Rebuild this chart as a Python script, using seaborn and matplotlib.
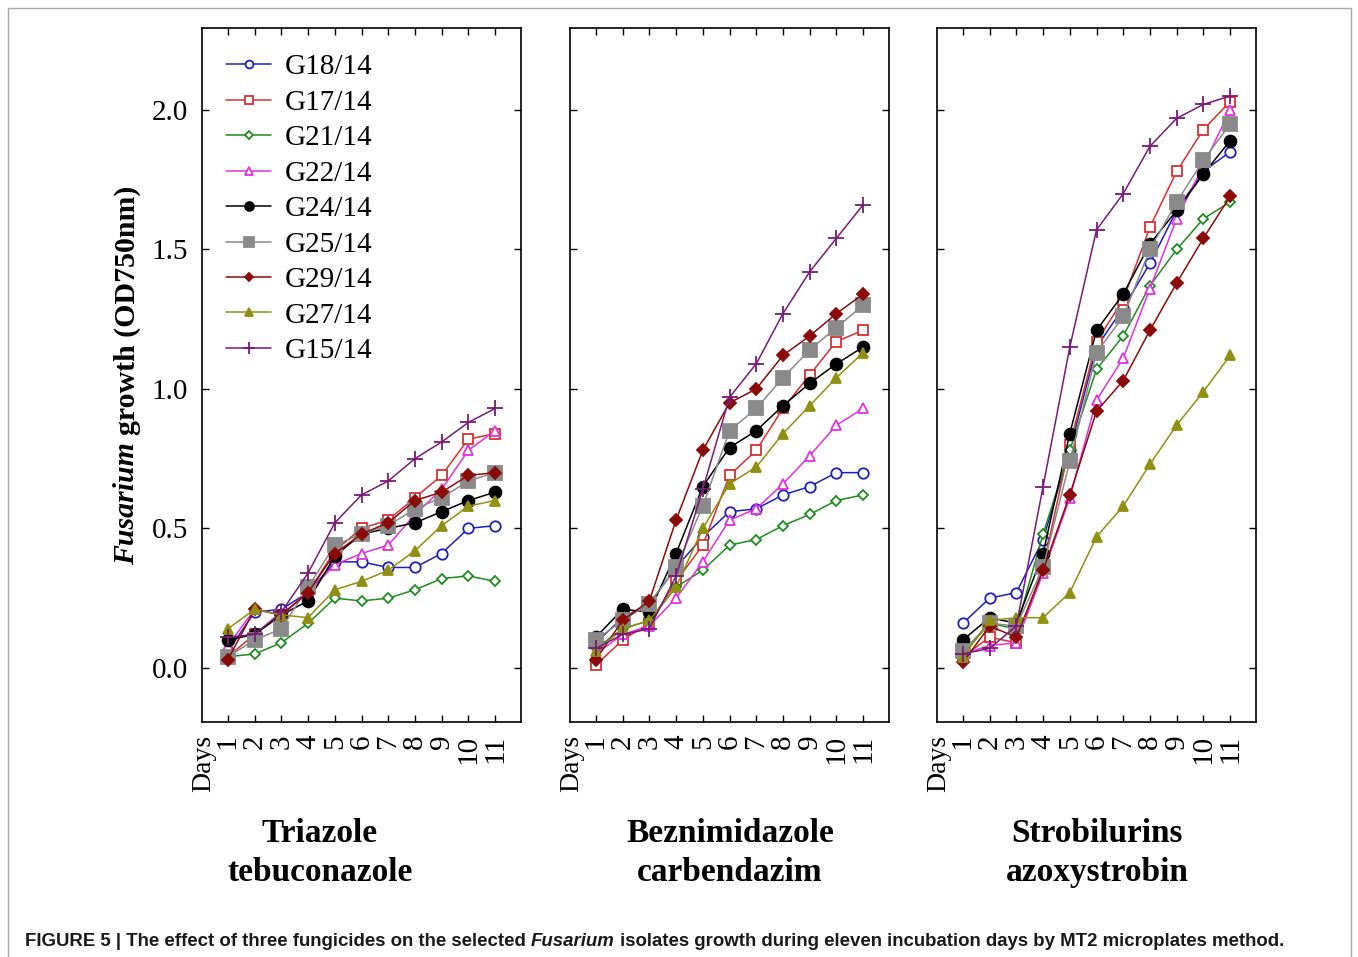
import matplotlib
matplotlib.use("Agg")
import matplotlib.pyplot as plt
import matplotlib.transforms as mtransforms
from matplotlib.patches import Rectangle
import pandas as pd
import seaborn as sns

days = list(range(1, 12))
isolates = ["G18/14", "G17/14", "G21/14", "G22/14", "G24/14",
            "G25/14", "G29/14", "G27/14", "G15/14"]

# OD750nm readings per isolate, days 1-11
tebuconazole = {
    "G18/14": [0.06, 0.20, 0.21, 0.27, 0.38, 0.38, 0.36, 0.36, 0.41, 0.50, 0.51],
    "G17/14": [0.04, 0.12, 0.19, 0.27, 0.42, 0.50, 0.53, 0.61, 0.69, 0.82, 0.84],
    "G21/14": [0.04, 0.05, 0.09, 0.16, 0.25, 0.24, 0.25, 0.28, 0.32, 0.33, 0.31],
    "G22/14": [0.08, 0.21, 0.19, 0.27, 0.37, 0.41, 0.44, 0.55, 0.64, 0.78, 0.85],
    "G24/14": [0.10, 0.12, 0.19, 0.24, 0.40, 0.48, 0.50, 0.52, 0.56, 0.60, 0.63],
    "G25/14": [0.04, 0.10, 0.14, 0.29, 0.44, 0.48, 0.51, 0.57, 0.61, 0.67, 0.70],
    "G29/14": [0.03, 0.21, 0.19, 0.27, 0.41, 0.48, 0.52, 0.60, 0.63, 0.69, 0.70],
    "G27/14": [0.14, 0.21, 0.19, 0.18, 0.28, 0.31, 0.35, 0.42, 0.51, 0.58, 0.60],
    "G15/14": [0.11, 0.12, 0.20, 0.34, 0.52, 0.62, 0.67, 0.75, 0.81, 0.88, 0.93],
}
carbendazim = {
    "G18/14": [0.09, 0.18, 0.23, 0.36, 0.47, 0.56, 0.57, 0.62, 0.65, 0.70, 0.70],
    "G17/14": [0.01, 0.10, 0.16, 0.31, 0.44, 0.69, 0.78, 0.93, 1.05, 1.17, 1.21],
    "G21/14": [0.07, 0.14, 0.17, 0.29, 0.35, 0.44, 0.46, 0.51, 0.55, 0.60, 0.62],
    "G22/14": [0.05, 0.12, 0.15, 0.25, 0.38, 0.53, 0.57, 0.66, 0.76, 0.87, 0.93],
    "G24/14": [0.11, 0.21, 0.20, 0.41, 0.65, 0.79, 0.85, 0.94, 1.02, 1.09, 1.15],
    "G25/14": [0.10, 0.17, 0.23, 0.36, 0.58, 0.85, 0.93, 1.04, 1.14, 1.22, 1.30],
    "G29/14": [0.03, 0.17, 0.24, 0.53, 0.78, 0.95, 1.00, 1.12, 1.19, 1.27, 1.34],
    "G27/14": [0.06, 0.14, 0.17, 0.29, 0.50, 0.66, 0.72, 0.84, 0.94, 1.04, 1.13],
    "G15/14": [0.07, 0.12, 0.14, 0.33, 0.64, 0.97, 1.09, 1.27, 1.42, 1.54, 1.66],
}
azoxystrobin = {
    "G18/14": [0.16, 0.25, 0.27, 0.46, 0.78, 1.15, 1.29, 1.45, 1.64, 1.78, 1.85],
    "G17/14": [0.04, 0.11, 0.09, 0.36, 0.80, 1.17, 1.32, 1.58, 1.78, 1.93, 2.03],
    "G21/14": [0.05, 0.16, 0.14, 0.48, 0.78, 1.07, 1.19, 1.37, 1.50, 1.61, 1.67],
    "G22/14": [0.05, 0.08, 0.09, 0.34, 0.61, 0.96, 1.11, 1.36, 1.61, 1.80, 2.00],
    "G24/14": [0.10, 0.18, 0.16, 0.41, 0.84, 1.21, 1.34, 1.52, 1.64, 1.77, 1.89],
    "G25/14": [0.06, 0.16, 0.15, 0.36, 0.74, 1.13, 1.26, 1.50, 1.67, 1.82, 1.95],
    "G29/14": [0.02, 0.15, 0.11, 0.35, 0.62, 0.92, 1.03, 1.21, 1.38, 1.54, 1.69],
    "G27/14": [0.04, 0.17, 0.18, 0.18, 0.27, 0.47, 0.58, 0.73, 0.87, 0.99, 1.12],
    "G15/14": [0.05, 0.07, 0.15, 0.65, 1.15, 1.57, 1.70, 1.87, 1.97, 2.02, 2.05],
}

panel_titles = ["Triazole\ntebuconazole", "Beznimidazole\ncarbendazim",
                "Strobilurins\nazoxystrobin"]
y_ticks = [0.0, 0.5, 1.0, 1.5, 2.0]

colors = {"G18/14": "#2020b8", "G17/14": "#d83030", "G21/14": "#1e8c1e",
          "G22/14": "#e030e0", "G24/14": "#000000", "G25/14": "#8a8a8a",
          "G29/14": "#8b0a0a", "G27/14": "#8f8f10", "G15/14": "#7a1a78"}
markers = {"G18/14": "o", "G17/14": "s", "G21/14": "D", "G22/14": "^",
           "G24/14": "o", "G25/14": "s", "G29/14": "D", "G27/14": "^",
           "G15/14": "+"}
filled = {"G18/14": False, "G17/14": False, "G21/14": False, "G22/14": False,
          "G24/14": True, "G25/14": True, "G29/14": True, "G27/14": True,
          "G15/14": True}
msizes = {"G18/14": 7.5, "G17/14": 7.5, "G21/14": 5.5, "G22/14": 7.5,
          "G24/14": 8.5, "G25/14": 10, "G29/14": 6, "G27/14": 7.5,
          "G15/14": 11}

sns.set_theme(style="white")
plt.rcParams["font.family"] = ["Liberation Serif", "DejaVu Serif"]
plt.rcParams["text.color"] = "black"

W, H = 1358, 957
fig = plt.figure(figsize=(W / 100, H / 100), dpi=100)
fig.patch.set_facecolor("white")
fig.patches.append(Rectangle((8 / W, -0.01), (1351 - 8) / W, 1 - 8 / H + 0.01,
                             transform=fig.transFigure, fill=False,
                             edgecolor="#a8a8a8", linewidth=1.0))

lefts = [202, 570, 937]
axes = [fig.add_axes([l / W, 1 - 722 / H, 319 / W, 694 / H]) for l in lefts]
title_x = [320, 730, 1097]

for i, (ax, data) in enumerate(zip(axes, [tebuconazole, carbendazim, azoxystrobin])):
    df = pd.DataFrame(data, index=days).rename_axis("day").reset_index()
    df = df.melt(id_vars="day", var_name="isolate", value_name="od")
    for iso in isolates:
        c = colors[iso]
        sns.lineplot(data=df[df["isolate"] == iso], x="day", y="od", ax=ax,
                     color=c, marker=markers[iso], markersize=msizes[iso],
                     markerfacecolor=c if filled[iso] else "white",
                     markeredgecolor=c, markeredgewidth=1.3,
                     linewidth=1.1, errorbar=None, label=iso, legend=False)

    ax.set_xlim(0.03, 11.97)
    ax.set_ylim(-0.194, 2.294)
    ax.set_xticks(days)
    ax.set_xticklabels([str(d) for d in days], rotation=90)
    ax.set_yticks(y_ticks)
    ax.set_yticklabels([f"{v:.1f}" for v in y_ticks] if i == 0 else [])
    ax.set_xlabel("")
    ax.set_ylabel("")
    ax.tick_params(direction="in", length=5, width=1, top=True, right=True,
                   bottom=True, left=True, labelsize=21, colors="black")
    ax.tick_params(axis="x", pad=9)
    ax.tick_params(axis="y", pad=10)
    for s in ax.spines.values():
        s.set_color("black")
        s.set_linewidth(1.2)
    trans = mtransforms.blended_transform_factory(ax.transData, ax.transAxes)
    ax.text(0.1, -0.018, "Days", rotation=90, ha="center", va="top",
            fontsize=20, transform=trans)
    fig.text(title_x[i] / W, 1 - 853 / H, panel_titles[i], ha="center",
             va="center", fontsize=24, fontweight="bold", linespacing=1.3)

leg = axes[0].legend(loc="upper left", bbox_to_anchor=(226 / W, 1 - 54 / H),
                     bbox_transform=fig.transFigure, frameon=False,
                     fontsize=21, borderpad=0, borderaxespad=0,
                     labelspacing=0.31, handlelength=1.55, handletextpad=0.45,
                     markerscale=0.75)

renderer = fig.canvas.get_renderer()


def advance(s, **props):
    t1 = fig.text(0, 0, s + "|", **props)
    t2 = fig.text(0, 0, "|", **props)
    w1 = t1.get_window_extent(renderer)
    w2 = t2.get_window_extent(renderer)
    t1.remove()
    t2.remove()
    if props.get("rotation", 0) == 90:
        return w1.height - w2.height
    return w1.width - w2.width


def chain(x, y, parts, rotation=0, **props):
    pos = 0
    for s, style in parts:
        kw = dict(props, style=style, rotation=rotation)
        if rotation == 90:
            fig.text(x / W, (H - y + pos) / H, s, ha="left", va="center",
                     rotation_mode="anchor", **kw)
        else:
            fig.text((x + pos) / W, 1 - y / H, s, ha="left", va="center",
                     rotation_mode="anchor", **kw)
        pos += advance(s, **kw)


chain(127, 565, [("Fusarium ", "italic"), ("growth (OD750nm)", "normal")],
      rotation=90, fontsize=21.5, fontweight="bold")

chain(25, 941, [("FIGURE 5 | The effect of three fungicides on the selected ", "normal"),
                ("Fusarium", "italic"),
                (" isolates growth during eleven incubation days by MT2 microplates method.", "normal")],
      fontsize=13.4, fontweight="bold", color="#1a1a1a",
      family=["Liberation Sans", "DejaVu Sans"])

fig.savefig("out.png", dpi=100)
